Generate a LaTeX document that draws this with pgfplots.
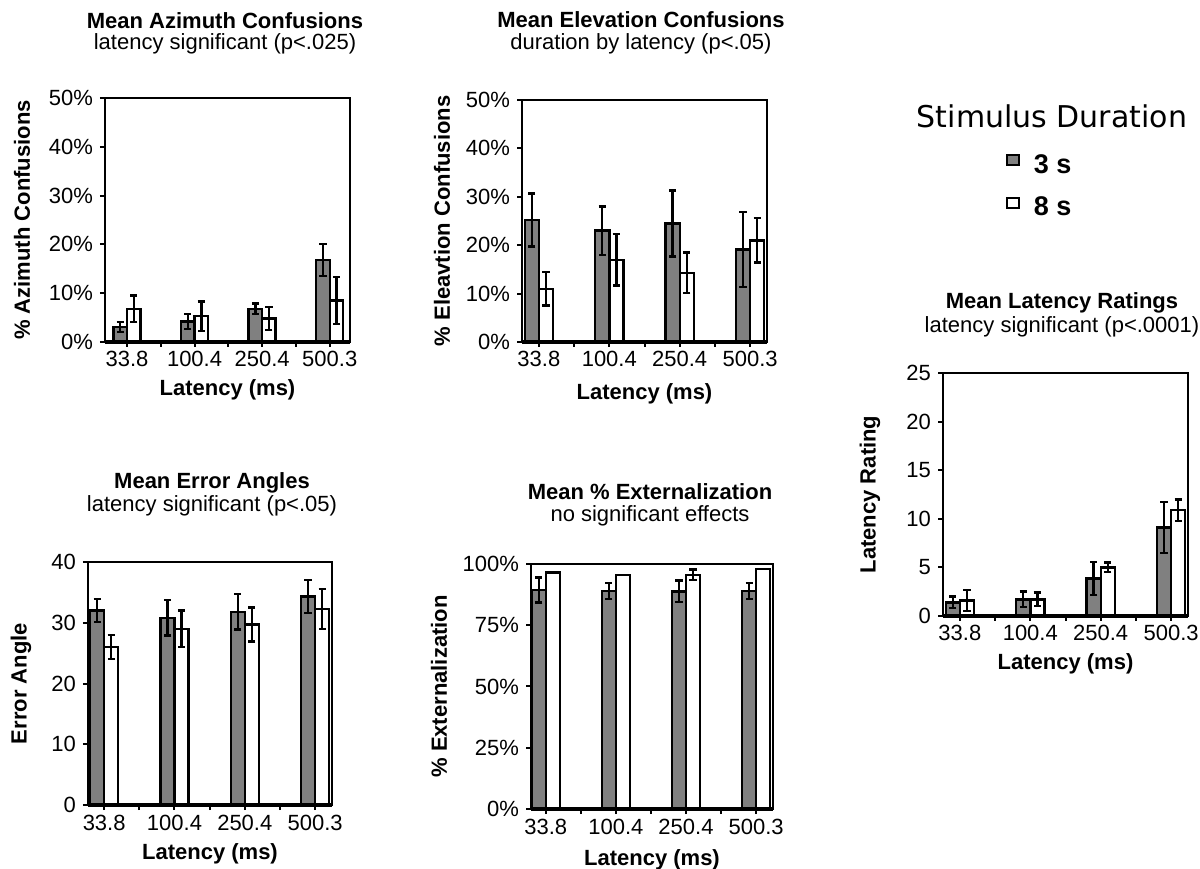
\documentclass[border=0pt]{standalone}
\usepackage{fontspec}
\setmainfont{Liberation Sans}
\newfontfamily\legfont{DejaVu Sans}
\usepackage{pgfplots}
\pgfplotsset{compat=1.18}
\definecolor{barGray}{RGB}{128,128,128}
\newcommand\fs{\fontsize{11}{13}\selectfont}
\pgfplotsset{
  panel/.style={
    scale only axis, anchor=south west, ymin=0,
    xtick={0,1,2,3}, xticklabels={33.8,100.4,250.4,500.3},
    minor xtick={0.5,1.5,2.5},
    xtick pos=left, ytick pos=left, tick align=outside,
    major tick length=2.5pt, minor tick length=2.5pt,
    every tick/.style={black, line width=1pt},
    axis line style={line width=1.2pt},
    tick label style={font=\fs},
    xticklabel style={anchor=base, yshift=-10pt},
    label style={font=\fs\bfseries},
    xlabel={Latency (ms)},
    /pgf/number format/assume math mode=true,
    after end axis/.code={\draw[line width=2pt] (rel axis cs:0,0) -- (rel axis cs:1,0);},
  },
  gbar/.style={ybar, bar shift=0pt, bar width=0.2, fill=barGray, draw=black, line width=1.2pt,
    error bars/.cd, y dir=both, y explicit,
    error bar style={line width=1.2pt, black},
    error mark options={rotate=90, mark size=1.8pt, line width=1.2pt, black}},
  wbar/.style={ybar, bar shift=0pt, bar width=0.2, fill=white, draw=black, line width=1.2pt,
    error bars/.cd, y dir=both, y explicit,
    error bar style={line width=1.2pt, black},
    error mark options={rotate=90, mark size=1.8pt, line width=1.2pt, black}},
}
\begin{document}
\begin{tikzpicture}
\useasboundingbox (0,0) rectangle (600pt,434pt);

% titles
\node[anchor=base, font=\fs\bfseries] at (112.5pt,419.5pt) {Mean Azimuth Confusions};
\node[anchor=base, font=\fs] at (112.5pt,409pt) {latency significant (p<.025)};
\node[anchor=base, font=\fs\bfseries] at (320.5pt,420pt) {Mean Elevation Confusions};
\node[anchor=base, font=\fs] at (320.5pt,409pt) {duration by latency (p<.05)};
\node[anchor=base, font=\fs\bfseries] at (106pt,189.5pt) {Mean Error Angles};
\node[anchor=base, font=\fs] at (106pt,178pt) {latency significant (p<.05)};
\node[anchor=base, font=\fs\bfseries] at (325pt,184pt) {Mean \% Externalization};
\node[anchor=base, font=\fs] at (325pt,173pt) {no significant effects};
\node[anchor=base, font=\fs\bfseries] at (531pt,279.5pt) {Mean Latency Ratings};
\node[anchor=base, font=\fs] at (531pt,267.5pt) {latency significant (p<.0001)};
\node[anchor=base, font=\legfont\fontsize{15}{18}\selectfont] at (526pt,370pt) {Stimulus Duration};

% Azimuth
\begin{axis}[panel, at={(52.5pt,263pt)}, width=122.5pt, height=122pt,
  xmin=-0.325, xmax=3.3, ymax=50,
  ytick={0,10,20,30,40,50}, yticklabels={0\%,10\%,20\%,30\%,40\%,50\%},
  ylabel={\% Azimuth Confusions},
  ylabel style={at={(axis description cs:-0.339,0.5)}, anchor=center},
  xlabel style={at={(axis description cs:0.5,-0.221)}, anchor=base}]
\addplot[gbar] coordinates {(-0.1,3.1) +- (0,1.0) (0.9,4.2) +- (0,1.5) (1.9,6.8) +- (0,1.1) (2.9,16.8) +- (0,3.3)};
\addplot[wbar] coordinates {(0.1,6.8) +- (0,2.7) (1.1,5.3) +- (0,3.0) (2.1,4.8) +- (0,2.4) (3.1,8.5) +- (0,4.8)};
\end{axis}

% Elevation
\begin{axis}[panel, at={(261pt,263pt)}, width=122.5pt, height=121pt,
  xmin=-0.24, xmax=3.24, ymax=50,
  ytick={0,10,20,30,40,50}, yticklabels={0\%,10\%,20\%,30\%,40\%,50\%},
  ylabel={\% Eleavtion Confusions},
  ylabel style={at={(axis description cs:-0.327,0.5)}, anchor=center},
  xlabel style={at={(axis description cs:0.5,-0.236)}, anchor=base}]
\addplot[gbar] coordinates {(-0.1,25.2) +- (0,5.5) (0.9,23.0) +- (0,5.0) (1.9,24.5) +- (0,6.8) (2.9,19.1) +- (0,7.7)};
\addplot[wbar] coordinates {(0.1,11.0) +- (0,3.5) (1.1,17.0) +- (0,5.3) (2.1,14.3) +- (0,4.2) (3.1,21.0) +- (0,4.6)};
\end{axis}

% Error angles
\begin{axis}[panel, at={(44pt,31.5pt)}, width=122pt, height=121.5pt,
  xmin=-0.23, xmax=3.24, ymax=40,
  ytick={0,10,20,30,40}, yticklabels={0,10,20,30,40},
  ylabel={Error Angle},
  ylabel style={at={(axis description cs:-0.275,0.5)}, anchor=center},
  xlabel style={at={(axis description cs:0.5,-0.226)}, anchor=base}]
\addplot[gbar] coordinates {(-0.1,32.0) +- (0,1.9) (0.9,30.8) +- (0,2.9) (1.9,31.8) +- (0,2.9) (2.9,34.3) +- (0,2.7)};
\addplot[wbar] coordinates {(0.1,26.0) +- (0,2.0) (1.1,29.0) +- (0,3.0) (2.1,29.7) +- (0,2.8) (3.1,32.3) +- (0,3.3)};
\end{axis}

% Externalization
\begin{axis}[panel, at={(265.5pt,29.5pt)}, width=121pt, height=122.5pt,
  xmin=-0.21, xmax=3.24, ymax=100,
  ytick={0,25,50,75,100}, yticklabels={0\%,25\%,50\%,75\%,100\%},
  ylabel={\% Externalization},
  ylabel style={at={(axis description cs:-0.38,0.5)}, anchor=center},
  xlabel style={at={(axis description cs:0.5,-0.229)}, anchor=base}]
\addplot[gbar] coordinates {(-0.1,89.4) +- (0,5.1) (0.9,89.0) +- (0,3.2) (1.9,88.8) +- (0,4.4) (2.9,89.0) +- (0,3.2)};
\addplot[wbar] coordinates {(0.1,96.6) +- (0,0) (1.1,95.4) +- (0,0) (2.1,95.6) +- (0,2.2) (3.1,98.0) +- (0,0)};
\end{axis}

% Latency ratings
\begin{axis}[panel, at={(471.5pt,126pt)}, width=122.5pt, height=121.5pt,
  xmin=-0.24, xmax=3.24, ymax=25,
  ytick={0,5,10,15,20,25}, yticklabels={0,5,10,15,20,25},
  ylabel={Latency Rating},
  ylabel style={at={(axis description cs:-0.298,0.5)}, anchor=center},
  xlabel style={at={(axis description cs:0.5,-0.222)}, anchor=base},
  legend style={at={(axis description cs:0.233,1.935)}, anchor=north west, draw=none, fill=none,
    font=\fontsize{13.5}{16}\selectfont\bfseries, row sep=6.5pt},
  legend cell align=left]
\addlegendimage{legend image code/.code={\draw[fill=barGray, draw=black, line width=1pt] (0pt,0pt) rectangle (6pt,5pt); \path (11pt,0pt);}}
\addlegendentry{3 s}
\addlegendimage{legend image code/.code={\draw[fill=white, draw=black, line width=1pt] (0pt,0pt) rectangle (6pt,5pt); \path (11pt,0pt);}}
\addlegendentry{8 s}
\addplot[gbar] coordinates {(-0.1,1.4) +- (0,0.6) (0.9,1.7) +- (0,0.8) (1.9,3.85) +- (0,1.7) (2.9,9.1) +- (0,2.6)};
\addplot[wbar] coordinates {(0.1,1.6) +- (0,1.1) (1.1,1.7) +- (0,0.7) (2.1,5.0) +- (0,0.5) (3.1,10.9) +- (0,1.1)};
\end{axis}
\end{tikzpicture}
\end{document}
